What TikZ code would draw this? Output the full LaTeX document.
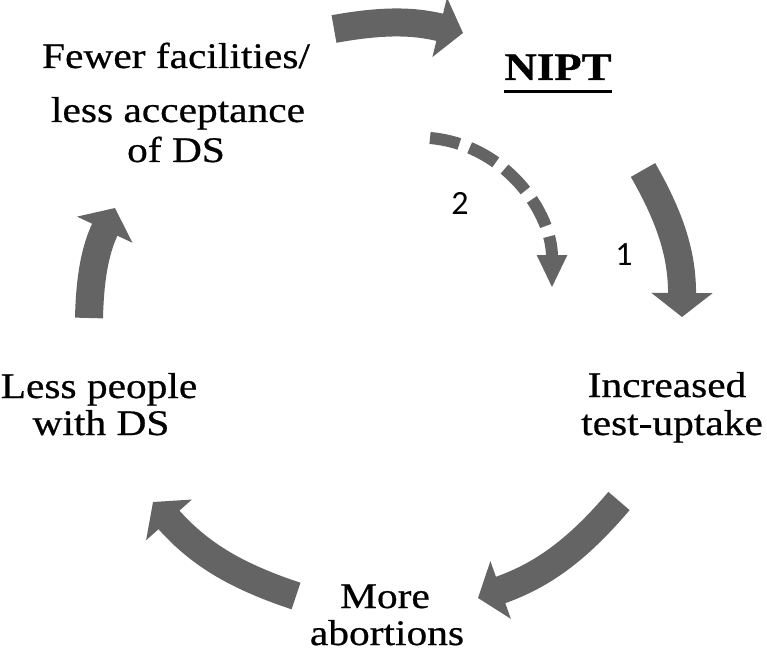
\documentclass[tikz,border=0pt]{standalone}
\usepackage{fontspec}
\setmainfont{Liberation Serif}[FakeStretch=1.15,FakeBold=0.6]
\newfontfamily\numfont{Carlito}
\usetikzlibrary{arrows.meta}
\definecolor{arrowgray}{RGB}{100,100,100}
\tikzset{
  bigarrow/.style={draw=arrowgray, line width=28pt,
    -{Triangle[width=60pt,length=24pt]}},
  dasharrow/.style={draw=arrowgray, line width=12pt, dash pattern=on 30pt off 11pt,
    -{Triangle[width=28pt,length=33pt]}},
  lbl/.style={anchor=base, inner sep=0pt, font=\fontsize{36}{40}\selectfont},
  num/.style={inner sep=0pt, font=\numfont\fontsize{34}{38}\selectfont}
}
\begin{document}
\begin{tikzpicture}[x=1pt,y=1pt]
\useasboundingbox (0,0) rectangle (767,649);
% labels
\node[lbl] (fewer1) at (176,581) {Fewer facilities/};
\node[lbl] (fewer2) at (178,527) {less acceptance};
\node[lbl] (fewer3) at (176,487) {of DS};
\node[lbl, font=\bfseries\fontsize{39}{44}\selectfont] (nipt) at (558,569) {NIPT};
\draw[line width=3pt] ([yshift=-12pt]nipt.base west) -- ([yshift=-12pt]nipt.base east);
\node[lbl] (incr1) at (667,252) {Increased};
\node[lbl] (incr2) at (672,214) {test-uptake};
\node[lbl] (less1) at (99,251) {Less people};
\node[lbl] (less2) at (101,214) {with DS};
\node[lbl] (more1) at (385,41) {More};
\node[lbl] (more2) at (387,4) {abortions};
\node[num] (n2) at (460,446) {2};
\node[num] (n1) at (624,394) {1};
% arrow end points
\coordinate (aTs) at (334,620); \coordinate (aTe) at (463,616);
\coordinate (aRs) at (643,479); \coordinate (aRe) at (682,332);
\coordinate (aBRs) at (619,148); \coordinate (aBRe) at (478,51);
\coordinate (aBLs) at (296,53); \coordinate (aBLe) at (153,147);
\coordinate (aLs) at (89,331); \coordinate (aLe) at (115,441);
\coordinate (dS) at (430,511); \coordinate (dE) at (552,361);
% arrows
\draw[bigarrow] (aTs) to[bend left=12] (aTe);
\draw[bigarrow] (aRs) to[bend left=15] (aRe);
\draw[bigarrow] (aBRs) to[bend left=15] (aBRe);
\draw[bigarrow] (aBLs) to[bend left=15] (aBLe);
\draw[bigarrow] (aLs) to[bend left=12] (aLe);
\draw[dasharrow] (dS) to[out=-5,in=90] (dE);
\end{tikzpicture}
\end{document}
